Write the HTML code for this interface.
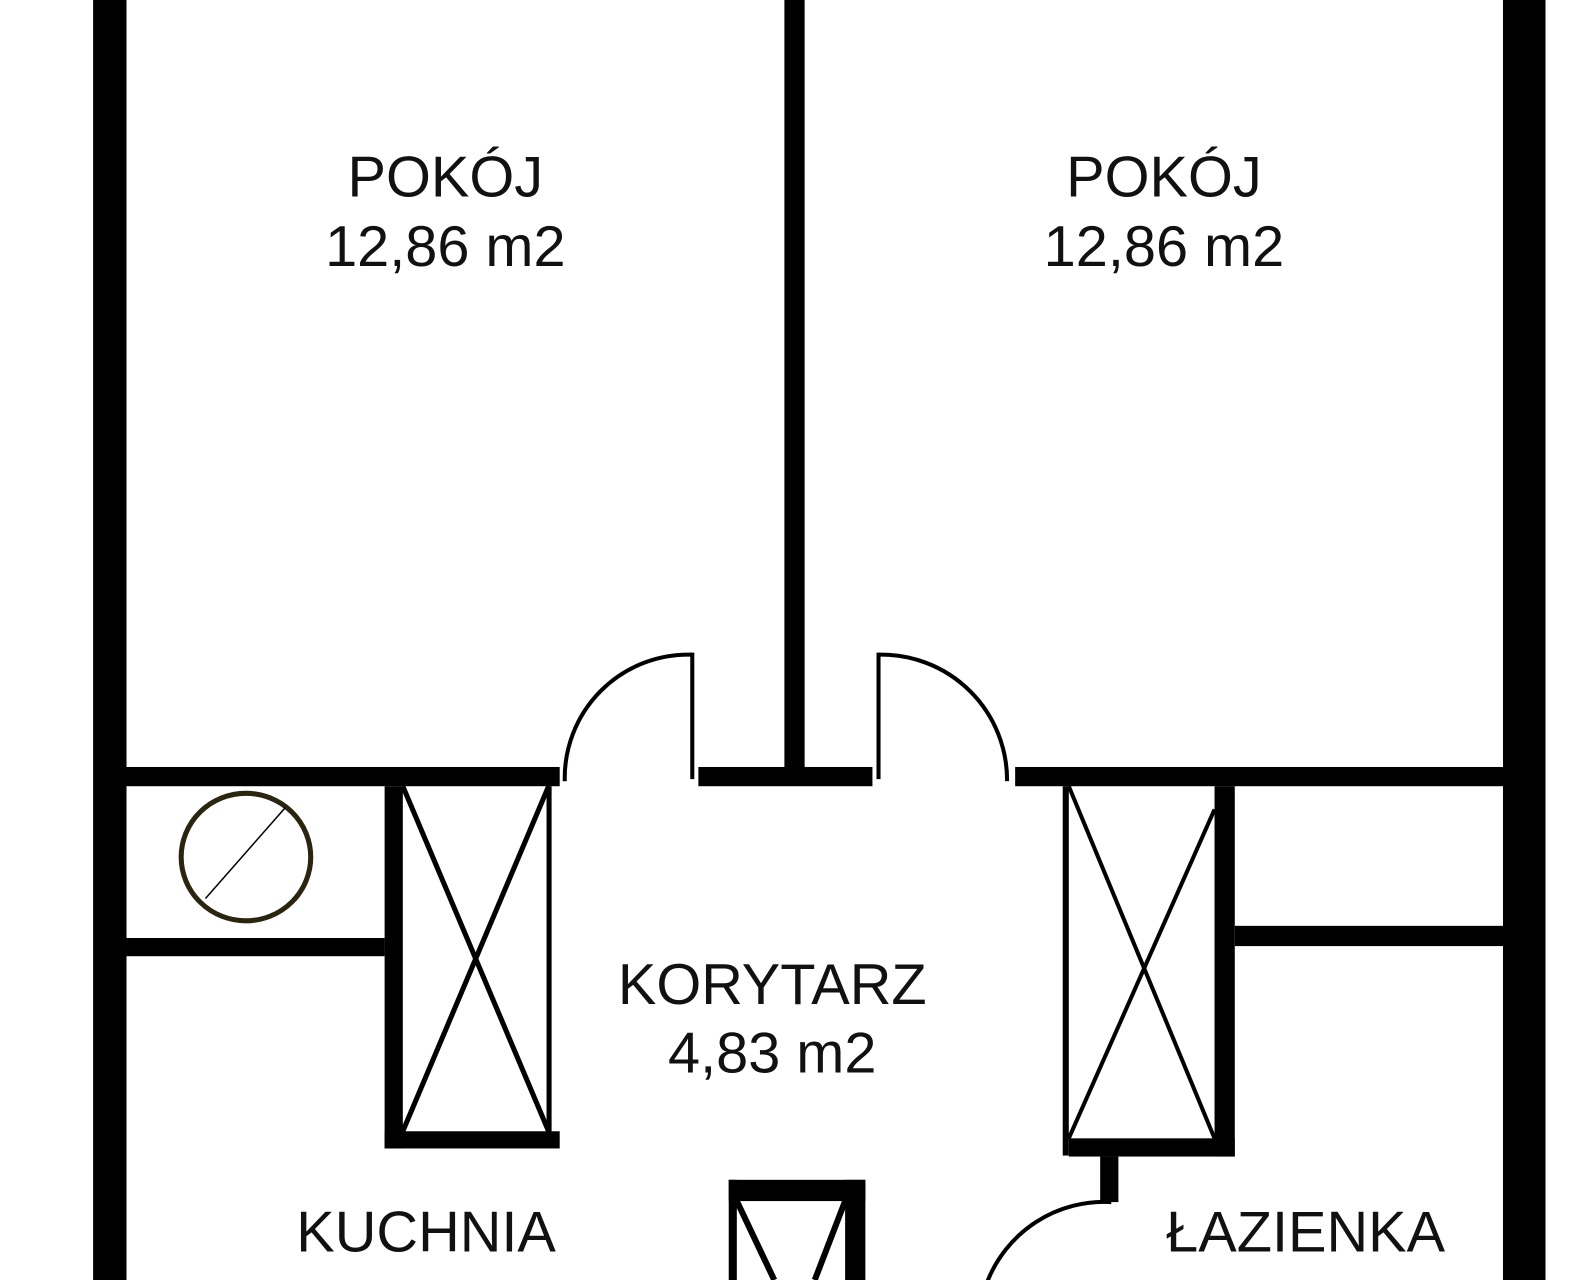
<!DOCTYPE html>
<html><head><meta charset="utf-8"><style>
html,body{margin:0;padding:0;background:#fff;width:1587px;height:1280px;overflow:hidden}
svg{display:block}
text{font-family:"Liberation Sans","DejaVu Sans",sans-serif;fill:#111;text-anchor:middle}
</style></head><body>
<svg width="1587" height="1280" viewBox="0 0 1568 1265" preserveAspectRatio="none" xmlns="http://www.w3.org/2000/svg">
<rect width="1568" height="1265" fill="#fff"/>
<g fill="#000">
<!-- outer walls -->
<rect x="92" y="0" width="33" height="1265"/>
<rect x="1485" y="0" width="42" height="1265"/>
<!-- center wall -->
<rect x="775" y="0" width="20" height="770"/>
<!-- horizontal wall row -->
<rect x="125" y="758" width="428" height="19"/>
<rect x="690" y="758" width="172" height="19"/>
<rect x="1003" y="758" width="482" height="19"/>
<!-- left lower -->
<rect x="125" y="927" width="255" height="18"/>
<rect x="380" y="777" width="18" height="358"/>
<rect x="380" y="1118" width="173" height="17"/>
<rect x="540" y="777" width="5" height="343"/>
<!-- right closet -->
<rect x="1050" y="777" width="6" height="365"/>
<rect x="1200" y="777" width="20" height="366"/>
<rect x="1056" y="1125" width="164" height="18"/>
<rect x="1220" y="915" width="265" height="20"/>
<rect x="1087" y="1143" width="18" height="45"/>
<!-- bottom box -->
<rect x="720" y="1166" width="135" height="21"/>
<rect x="720" y="1166" width="8" height="99"/>
<rect x="835" y="1166" width="20" height="99"/>
<!-- door jambs -->
<rect x="682" y="645" width="4" height="125"/>
<rect x="866" y="645" width="4" height="125"/>
</g>
<g fill="none" stroke="#000">
<path d="M684,647 A122,122 0 0 0 558,772" stroke-width="4"/>
<path d="M868,647 A124,124 0 0 1 995,772" stroke-width="4"/>
<path d="M1098,1188 A124,124 0 0 0 975,1268" stroke-width="4"/>
<line x1="398" y1="777" x2="542" y2="1118" stroke-width="5"/>
<line x1="542" y1="777" x2="398" y2="1118" stroke-width="5"/>
<line x1="1056" y1="777" x2="1200" y2="1125" stroke-width="4"/>
<line x1="1200" y1="800" x2="1056" y2="1125" stroke-width="4"/>
<line x1="728" y1="1187" x2="765" y2="1265" stroke-width="6"/>
<line x1="835" y1="1187" x2="805" y2="1265" stroke-width="6"/>
<ellipse cx="243" cy="847" rx="64" ry="63" stroke="#2b2510" stroke-width="5"/>
<line x1="203" y1="888" x2="282" y2="798" stroke-width="1.5"/>
</g>
<g font-size="57">
<text x="440" y="194">POKÓJ</text>
<text x="440" y="263">12,86 m2</text>
<text x="1150" y="194">POKÓJ</text>
<text x="1150" y="263">12,86 m2</text>
<text x="763" y="992">KORYTARZ</text>
<text x="763" y="1060">4,83 m2</text>
<text x="421" y="1237">KUCHNIA</text>
<text x="421" y="1306">5,64 m2</text>
<text x="1290" y="1237">ŁAZIENKA</text>
<text x="1290" y="1306">3,81 m2</text>
</g>
</svg>
</body></html>
